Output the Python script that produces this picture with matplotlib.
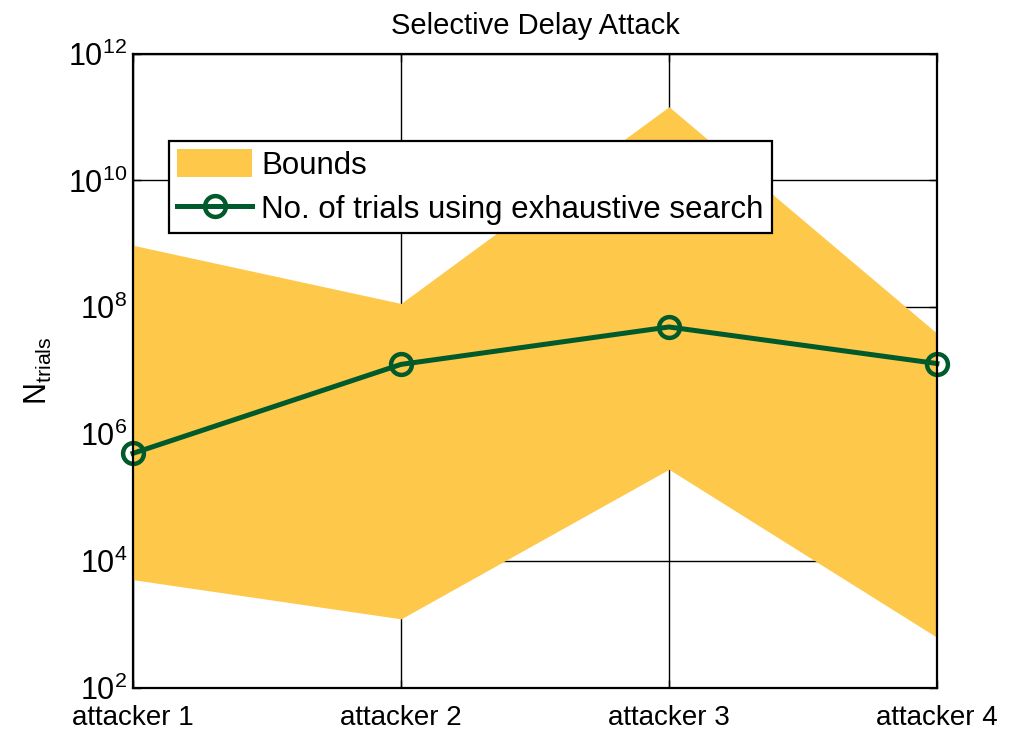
import numpy as np
import matplotlib.pyplot as plt

plt.rcParams['font.family'] = ['Liberation Sans', 'DejaVu Sans']
plt.rcParams['mathtext.default'] = 'regular'

attackers = ['attacker 1', 'attacker 2', 'attacker 3', 'attacker 4']
upper_bound = [9.5e8, 1.15e8, 1.45e11, 3.9e7]
lower_bound = [5.1e3, 1.23e3, 2.8e5, 6.3e2]
n_trials = [5.0e5, 1.26e7, 4.9e7, 1.3e7]
ytick_exp = [2, 4, 6, 8, 10, 12]

x = np.arange(1, len(attackers) + 1)

fig = plt.figure(figsize=(10.28, 7.31), dpi=100)
ax = fig.add_axes([0.1294, 0.0588, 0.782, 0.868])

ax.fill_between(x, lower_bound, upper_bound, color='#FEC84A', lw=0,
                label='Bounds', zorder=2)
ax.plot(x, n_trials, '-o', color='#005A2B', lw=3.6, ms=15, mew=3.2,
        mfc='none', label='No. of trials using exhaustive search', zorder=3,
        clip_on=False)

ax.set_yscale('log')
ax.set_ylim(1e2, 1e12)
ax.set_xlim(1, 4)
ax.set_xticks(x)
ax.set_xticklabels(attackers, fontsize=20)
ax.set_yticks([10.0 ** e for e in ytick_exp])
ax.set_yticklabels([r'$10^{%d}$' % e for e in ytick_exp], fontsize=22)
ax.yaxis.set_minor_locator(plt.NullLocator())
ax.tick_params(direction='in', length=6, width=1, top=True, right=True, pad=4)
ax.tick_params(axis='x', pad=12)

ax.grid(True, color='black', lw=1, ls='-')
ax.set_axisbelow(True)
for s in ax.spines.values():
    s.set_linewidth(1.6)
    s.set_zorder(4)

ax.set_title('Selective Delay Attack', fontsize=21, pad=14)
ax.set_ylabel(r'N$_{trials}$', fontsize=22, labelpad=10)

leg = ax.legend(loc='upper left', bbox_to_anchor=(0.045, 0.862), fontsize=22.5,
                frameon=True, fancybox=False, edgecolor='black', framealpha=1,
                handlelength=2.4, handleheight=1.0, borderpad=0.25,
                labelspacing=0.42, handletextpad=0.3, borderaxespad=0)
leg.get_frame().set_linewidth(1.6)
leg.set_zorder(5)

fig.savefig('out.png', dpi=100)
